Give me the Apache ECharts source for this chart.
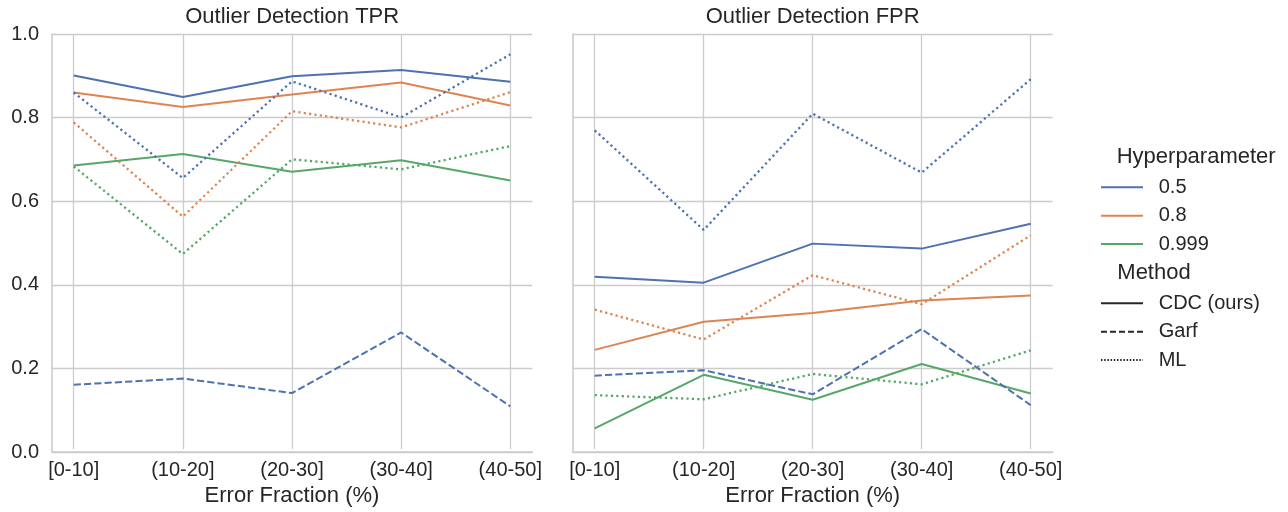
<!DOCTYPE html>
<html>
<head>
<meta charset="utf-8">
<script src="https://cdn.jsdelivr.net/npm/echarts@6/dist/echarts.min.js"></script>
<style>
html,body{margin:0;padding:0;background:#fff;}
#chart{width:1288px;height:512px;}
</style>
</head>
<body>
<div id="chart"></div>
<script>
// ---- data ----
const categories = ['[0-10]', '(10-20]', '(20-30]', '(30-40]', '(40-50]'];
const yTicks = [0, 0.2, 0.4, 0.6, 0.8, 1.0];
const hyperparams = ['0.5', '0.8', '0.999'];
const methods = ['CDC (ours)', 'Garf', 'ML'];

// TPR panel
const tprCdc05   = [0.900, 0.848, 0.898, 0.913, 0.885];
const tprCdc08   = [0.859, 0.824, 0.854, 0.883, 0.828];
const tprCdc0999 = [0.683, 0.711, 0.668, 0.696, 0.647];
const tprGarf05  = [0.155, 0.170, 0.135, 0.281, 0.103];
const tprMl05    = [0.859, 0.653, 0.886, 0.799, 0.951];
const tprMl08    = [0.787, 0.560, 0.814, 0.775, 0.860];
const tprMl0999  = [0.681, 0.470, 0.698, 0.674, 0.730];

// FPR panel
const fprCdc05   = [0.415, 0.401, 0.495, 0.483, 0.543];
const fprCdc08   = [0.239, 0.307, 0.328, 0.358, 0.370];
const fprCdc0999 = [0.050, 0.179, 0.119, 0.205, 0.134];
const fprGarf05  = [0.177, 0.190, 0.132, 0.289, 0.106];
const fprMl05    = [0.768, 0.528, 0.808, 0.666, 0.891];
const fprMl08    = [0.336, 0.264, 0.419, 0.349, 0.515];
const fprMl0999  = [0.130, 0.120, 0.181, 0.156, 0.238];

// ---- styles ----
const FONT = "'Liberation Sans', Arial, sans-serif";
const TEXT = '#262626';
const GRID = '#cccccc';
const colors = {'0.5': '#4c72b0', '0.8': '#dd8452', '0.999': '#55a868'};
const dashTypes = {'CDC (ours)': 'solid', 'Garf': [7.2, 3.1], 'ML': [2.2, 3.2]};
const widths = {'CDC (ours)': 2, 'Garf': 2, 'ML': 2.3};

const chart = echarts.init(document.getElementById('chart'), null, {renderer: 'canvas'});

const TOP = 34, H = 418;
const grids = [
  {left: 52, top: TOP, width: 480.3, height: H},     // left frame
  {left: 73.7, top: TOP, width: 436.6, height: H},   // left data
  {left: 572.7, top: TOP, width: 480, height: H},    // right frame
  {left: 594.7, top: TOP, width: 436, height: H}     // right data
];

function frameX(gi) {
  return {type: 'value', gridIndex: gi, min: 0, max: 1,
    axisLine: {show: true, lineStyle: {color: GRID, width: 1.6}},
    axisTick: {show: false}, axisLabel: {show: false}, splitLine: {show: false}};
}
function frameY(gi, showLabels) {
  return {type: 'value', gridIndex: gi, min: 0, max: 1, interval: 0.2,
    axisLine: {show: true, lineStyle: {color: GRID, width: 1.6}},
    axisTick: {show: false},
    axisLabel: {show: showLabels, margin: 13, color: TEXT, fontSize: 20, fontFamily: FONT,
      formatter: v => v.toFixed(1)},
    splitLine: {show: true, lineStyle: {color: GRID, width: 1.3}}};
}
function dataX(gi) {
  return {type: 'category', gridIndex: gi, data: categories, boundaryGap: false,
    axisLine: {show: false}, axisTick: {show: false},
    axisLabel: {show: true, interval: 0, margin: 11, color: TEXT, fontSize: 20, fontFamily: FONT, lineHeight: 20},
    splitLine: {show: true, interval: 0, lineStyle: {color: GRID, width: 1.3}},
    name: 'Error Fraction (%)', nameLocation: 'middle', nameGap: 29,
    nameTextStyle: {color: TEXT, fontSize: 22, fontFamily: FONT, lineHeight: 22, verticalAlign: 'top'}};
}
function dataY(gi) {
  return {type: 'value', gridIndex: gi, min: 0, max: 1, show: false,
    splitLine: {show: false}};
}

function line(name, method, data, axisIdx) {
  return {type: 'line', name: name, data: data, xAxisIndex: axisIdx, yAxisIndex: axisIdx,
    symbol: 'none', smooth: false, silent: true,
    itemStyle: {color: colors[name]},
    lineStyle: {color: colors[name], width: widths[method], type: dashTypes[method], cap: 'butt'},
    emphasis: {disabled: true}, animation: false};
}

const series = [
  // solid CDC first so legend icons for hyperparameters are solid
  line('0.5', 'CDC (ours)', tprCdc05, 1),
  line('0.8', 'CDC (ours)', tprCdc08, 1),
  line('0.999', 'CDC (ours)', tprCdc0999, 1),
  line('0.5', 'Garf', tprGarf05, 1),
  line('0.5', 'ML', tprMl05, 1),
  line('0.8', 'ML', tprMl08, 1),
  line('0.999', 'ML', tprMl0999, 1),
  line('0.5', 'CDC (ours)', fprCdc05, 3),
  line('0.8', 'CDC (ours)', fprCdc08, 3),
  line('0.999', 'CDC (ours)', fprCdc0999, 3),
  line('0.5', 'Garf', fprGarf05, 3),
  line('0.5', 'ML', fprMl05, 3),
  line('0.8', 'ML', fprMl08, 3),
  line('0.999', 'ML', fprMl0999, 3)
];
// legend-only series for methods
methods.forEach(m => {
  series.push({type: 'line', name: m, data: [], xAxisIndex: 3, yAxisIndex: 3, symbol: 'none',
    itemStyle: {color: '#262626'},
    lineStyle: {color: '#262626', width: 1.7, type: m === 'ML' ? [1.5, 1.7] : (m === 'Garf' ? [6, 3] : 'solid')}});
});

const legendCommon = {
  orient: 'vertical', left: 1100, itemWidth: 42, itemHeight: 14, itemGap: 8.35, padding: 0,
  selectedMode: false,
  itemStyle: {color: 'rgba(0,0,0,0)', borderWidth: 0, opacity: 0},
  textStyle: {color: TEXT, fontSize: 20, fontFamily: FONT, lineHeight: 20, padding: [0, 0, 0, 10.7]}
};

const titleStyle = {color: TEXT, fontSize: 22, fontFamily: FONT, fontWeight: 'normal', lineHeight: 22};

const option = {
  backgroundColor: '#ffffff',
  animation: false,
  title: [
    {text: 'Outlier Detection TPR', left: 292.2, top: 5.5, textAlign: 'center', padding: 0, textStyle: titleStyle},
    {text: 'Outlier Detection FPR', left: 812.7, top: 5.5, textAlign: 'center', padding: 0, textStyle: titleStyle},
    {text: 'Hyperparameter', left: 1116.7, top: 146.3, padding: 0, textStyle: titleStyle},
    {text: 'Method', left: 1117.3, top: 262.3, padding: 0, textStyle: titleStyle}
  ],
  legend: [
    Object.assign({}, legendCommon, {top: 177.3, data: hyperparams}),
    Object.assign({}, legendCommon, {top: 293.3, data: methods})
  ],
  grid: grids,
  xAxis: [frameX(0), dataX(1), frameX(2), dataX(3)],
  yAxis: [frameY(0, true), dataY(1), frameY(2, false), dataY(3)],
  series: series
};
chart.setOption(option);
</script>
</body>
</html>
